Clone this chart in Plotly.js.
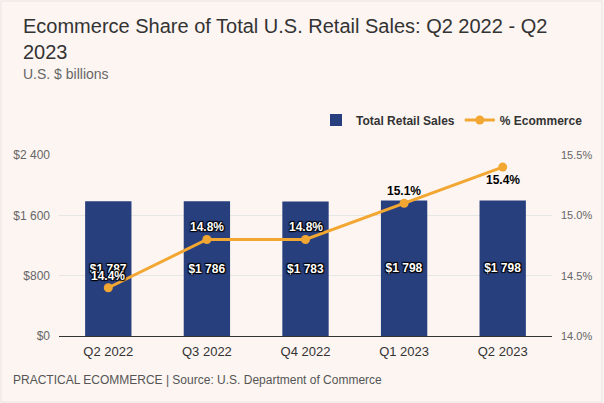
<!DOCTYPE html>
<html>
<head>
<meta charset="utf-8">
<script src="https://cdn.plot.ly/plotly-3.0.1.min.js"></script>
<style>html,body{margin:0;padding:0;background:#fcf5f2;}#chart{width:604px;height:403px;}</style>
</head>
<body>
<div id="chart"></div>
<script>
const categories = ['Q2 2022', 'Q3 2022', 'Q4 2022', 'Q1 2023', 'Q2 2023'];
const retailSales = [1787, 1786, 1783, 1798, 1798];
const ecommerceShare = [14.4, 14.8, 14.8, 15.1, 15.4];
const shareLabelOnBar = [true, true, true, false, false];
const shareLabelAbove = [true, true, true, true, false];
const leftTicks = [0, 800, 1600, 2400];
const leftTickText = ['$0', '$800', '$1 600', '$2 400'];
const rightTicks = [14.0, 14.5, 15.0, 15.5];
const rightTickText = ['14.0%', '14.5%', '15.0%', '15.5%'];

function fmtMoney(v) {
  return '$' + String(v).replace(/\B(?=(\d{3})+(?!\d))/g, ' ');
}

const font = 'Liberation Sans, Arial, sans-serif';
const navy = '#283f7d';
const orange = '#f2a733';
const outline = '1px 1px 1px #000, -1px -1px 1px #000, 1px -1px 1px #000, -1px 1px 1px #000';

const traces = [
  {
    type: 'bar', name: 'Total Retail Sales',
    x: categories, y: retailSales,
    marker: {color: navy},
    text: retailSales.map(fmtMoney),
    textposition: 'inside', insidetextanchor: 'middle', constraintext: 'none',
    textfont: {family: font, size: 12, color: '#ffffff', weight: 700, shadow: outline},
    hoverinfo: 'skip'
  },
  {
    type: 'scatter', mode: 'lines+markers', name: '% Ecommerce',
    x: categories, y: ecommerceShare, yaxis: 'y2',
    line: {color: orange, width: 3},
    marker: {color: orange, size: 9},
    hoverinfo: 'skip'
  }
];

const shareAnnotations = categories.map((c, i) => ({
  xref: 'x', yref: 'y2', x: c, y: ecommerceShare[i],
  text: ecommerceShare[i].toFixed(1) + '%', showarrow: false,
  xanchor: 'center', yanchor: 'middle', yshift: shareLabelAbove[i] ? 12 : -13,
  font: shareLabelOnBar[i]
    ? {family: font, size: 12, color: '#ffffff', weight: 700, shadow: outline}
    : {family: font, size: 12, color: '#000000', weight: 700}
}));

const PW = 493, PH = 181, ML = 59, MT = 155;
const px = v => (v - ML) / PW;
const py = v => 1 - (v - MT) / PH;

const layout = {
  width: 604, height: 403,
  paper_bgcolor: '#fcf5f2', plot_bgcolor: '#fcf5f2',
  margin: {l: 59, r: 52, t: 155, b: 67},
  font: {family: font, color: '#666666', size: 12},
  bargap: 0.53,
  showlegend: true,
  legend: {orientation: 'h', x: px(588), xanchor: 'right', y: py(120), yanchor: 'middle',
    font: {family: font, size: 12, color: '#333333', weight: 700}, bgcolor: 'rgba(0,0,0,0)', traceorder: 'normal'},
  xaxis: {
    type: 'category', showgrid: false, showline: true, linecolor: '#333333', linewidth: 1,
    ticks: '', tickfont: {size: 13, color: '#333333'}, ticklabelstandoff: 3, fixedrange: true
  },
  yaxis: {
    range: [0, 2400], tickvals: leftTicks, ticktext: leftTickText,
    showgrid: true, gridcolor: '#e6e6e6', zeroline: false, showline: false,
    tickfont: {size: 12, color: '#666666'}, ticklabelstandoff: 8, fixedrange: true
  },
  yaxis2: {
    overlaying: 'y', side: 'right', range: [14.0, 15.5],
    tickvals: rightTicks, ticktext: rightTickText,
    showgrid: false, zeroline: false, showline: false,
    tickfont: {size: 11, color: '#666666'}, ticklabelstandoff: 8, fixedrange: true
  },
  annotations: [
    {xref: 'paper', yref: 'paper', x: px(21), y: py(13), xanchor: 'left', yanchor: 'top', align: 'left',
      text: 'Ecommerce Share of Total U.S. Retail Sales: Q2 2022 - Q2<br>2023', showarrow: false,
      font: {family: font, size: 20, color: '#333333'}},
    {xref: 'paper', yref: 'paper', x: px(21), y: py(64), xanchor: 'left', yanchor: 'top', align: 'left',
      text: 'U.S. $ billions', showarrow: false, font: {family: font, size: 14, color: '#666666'}},
    {xref: 'paper', yref: 'paper', x: px(11), y: py(371), xanchor: 'left', yanchor: 'top', align: 'left',
      text: 'PRACTICAL ECOMMERCE | Source: U.S. Department of Commerce', showarrow: false, font: {family: font, size: 12, color: '#555555'}}
  ].concat(shareAnnotations),
  shapes: [
    {type: 'rect', xref: 'paper', yref: 'paper', x0: px(1), x1: px(602), y0: py(402), y1: py(1),
      line: {color: '#e8e4e2', width: 1}, fillcolor: 'rgba(0,0,0,0)', layer: 'below'}
  ]
};

Plotly.newPlot('chart', traces, layout, {displayModeBar: false, staticPlot: true});
</script>
</body>
</html>
